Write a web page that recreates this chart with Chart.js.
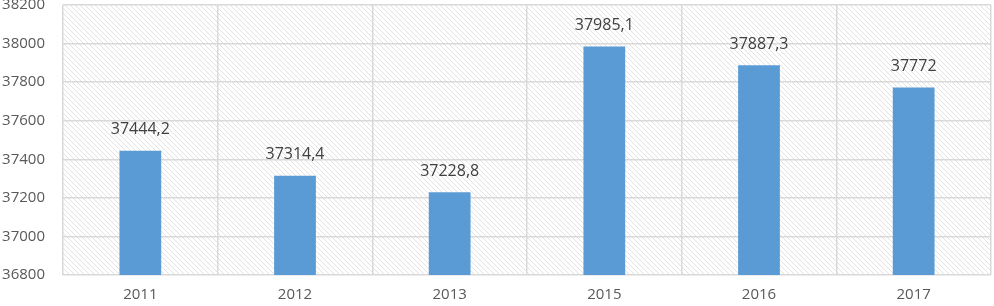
<!DOCTYPE html>
<html>
<head>
<meta charset="utf-8">
<script src="https://cdn.jsdelivr.net/npm/chart.js@4.4.0/dist/chart.umd.min.js"></script>
<style>
  html, body { margin: 0; padding: 0; background: #fff; }
  #wrap { width: 994px; height: 306px; }
</style>
</head>
<body>
<div id="wrap"><canvas id="chart" width="994" height="306"></canvas></div>
<script>
const years = ['2011', '2012', '2013', '2015', '2016', '2017'];
const values = [37444.2, 37314.4, 37228.8, 37985.1, 37887.3, 37772];
const y_min = 36800
const y_max = 38200
const y_step = 200
const font_family = '"Open Sans", "Liberation Sans", sans-serif'

const make_hatch = (ctx) => {
    const s = 5
    const c = document.createElement('canvas')
    c.width = s
    c.height = s
    const p = c.getContext('2d')
    p.fillStyle = '#ffffff'
    p.fillRect(0, 0, s, s)
    p.strokeStyle = '#e2e2e2'
    p.lineWidth = 1
    p.beginPath()
    p.moveTo(0, 0); p.lineTo(s, s)
    p.moveTo(-1, s - 1); p.lineTo(1, s + 1)
    p.moveTo(s - 1, -1); p.lineTo(s + 1, 1)
    p.stroke()
    return ctx.createPattern(c, 'repeat')
}

const hatchBackground = {
    id: 'hatch-bg',
    beforeDraw: (chart) => {
        const ctx = chart.ctx
        const {top, left, width, height} = chart.chartArea
        ctx.save()
        ctx.fillStyle = make_hatch(ctx)
        ctx.fillRect(left, top, width, height)
        ctx.restore()
    }
}

const valueLabels = {
    id: 'value-labels',
    afterDatasetsDraw: (chart) => {
        const ctx = chart.ctx
        const meta = chart.getDatasetMeta(0)
        ctx.save()
        ctx.font = '16px ' + font_family
        ctx.fillStyle = '#404040'
        ctx.textAlign = 'center'
        ctx.textBaseline = 'middle'
        meta.data.forEach((bar, i) => {
            let txt = String(values[i]).replace('.', ',')
            ctx.fillText(txt, bar.x, bar.y - 21)
        })
        ctx.restore()
    }
}

new Chart(document.getElementById('chart'), {
    type: 'bar',
    data: {
        labels: years,
        datasets: [{
            data: values,
            backgroundColor: '#5b9bd5',
            borderWidth: 0,
            barPercentage: 0.27,
            categoryPercentage: 1.0,
        }]
    },
    options: {
        responsive: false,
        animation: false,
        layout: {padding: {top: 5, right: 3, left: 0, bottom: 0}},
        plugins: {
            legend: {display: false},
            tooltip: {enabled: false},
        },
        scales: {
            y: {
                min: y_min,
                max: y_max,
                ticks: {
                    stepSize: y_step,
                    color: '#595959',
                    font: {family: font_family, size: 15},
                    padding: 18,
                    callback: (v) => String(v),
                },
                grid: {color: '#d9d9d9', lineWidth: 1.5, drawTicks: false},
                border: {display: false},
                afterFit: (axis) => {
                    axis.width = 63
                    axis.paddingTop = 0
                    axis.paddingBottom = 0
                },
            },
            x: {
                ticks: {
                    color: '#595959',
                    font: {family: font_family, size: 15},
                    padding: 11,
                },
                grid: {color: '#d9d9d9', lineWidth: 1.5, drawTicks: false, offset: true},
                border: {display: false},
                afterFit: (axis) => { axis.height = 31 },
            }
        }
    },
    plugins: [hatchBackground, valueLabels]
})
</script>
</body>
</html>
